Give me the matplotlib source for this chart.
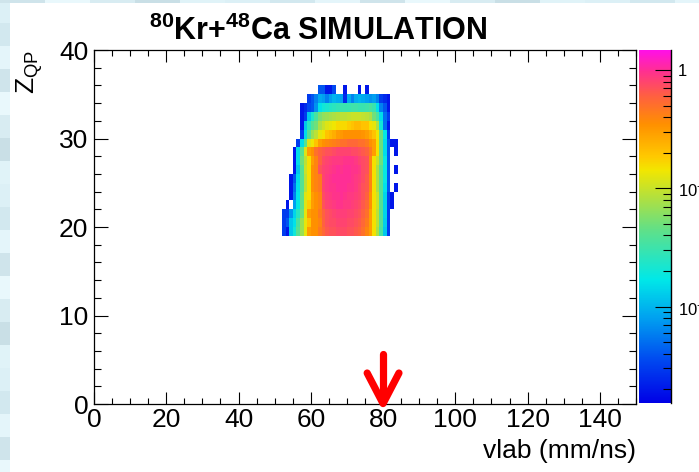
import numpy as np
import matplotlib
matplotlib.use("Agg")
import matplotlib.pyplot as plt
from matplotlib.colors import LinearSegmentedColormap, LogNorm
from matplotlib.patches import Rectangle
from matplotlib.ticker import MultipleLocator, FixedLocator, FixedFormatter

plt.rcParams["font.family"] = ["Liberation Sans", "DejaVu Sans"]
plt.rcParams["mathtext.fontset"] = "custom"
plt.rcParams["mathtext.rm"] = "Liberation Sans"
plt.rcParams["mathtext.bf"] = "Liberation Sans:bold"
plt.rcParams["mathtext.it"] = "Liberation Sans:italic"

# ---- histogram content: Z_QP (rows, 35 down to 19) vs vlab bins 52..83 ----
vlab_edges = np.arange(52, 85)      # 1 mm/ns bins
zqp_edges = np.arange(19, 37)       # unit charge bins
counts_top_down = [
    [0,0,0,0,0,0,0,0,0,0,.004,.004,.002,.002,.0035,0,0,.002,0,0,0,.002,0,.002,0,0,0,0,0,0,0,0],
    [0,0,0,0,0,0,0,.003,.004,.006,.009,.008,.006,.008,.01,.009,.008,.0025,.009,.006,.009,.01,.009,.008,.007,.008,.006,.003,.0025,.002,0,0],
    [0,0,0,0,0,.002,.0025,.0035,.004,.007,.016,.02,.022,.024,.026,.028,.03,.03,.03,.032,.032,.03,.03,.032,.035,.03,.016,.006,.004,.002,0,0],
    [0,0,0,0,0,.002,.003,.012,.022,.035,.055,.065,.07,.075,.08,.085,.09,.09,.095,.1,.1,.1,.095,.09,.08,.05,.035,.015,.005,.003,0,0],
    [0,0,0,0,0,.002,.012,.025,.04,.05,.08,.1,.12,.13,.14,.16,.16,.16,.18,.2,.22,.22,.2,.2,.15,.13,.08,.02,.005,.002,0,0],
    [0,0,0,0,0,.003,.015,.04,.07,.09,.13,.15,.2,.22,.25,.3,.32,.35,.35,.35,.35,.35,.33,.3,.25,.2,.14,.05,.018,.003,0,0],
    [0,0,0,0,.003,.015,.04,.12,.14,.2,.3,.35,.38,.4,.42,.45,.5,.5,.55,.55,.55,.5,.5,.45,.35,.3,.15,.05,.015,.004,.002,.002],
    [0,0,0,.002,.015,.04,.12,.3,.35,.5,.6,.65,.7,.7,.75,.8,.8,.8,.8,.75,.75,.7,.65,.6,.45,.3,.15,.05,.015,.004,0,.002],
    [0,0,0,.002,.015,.05,.09,.15,.3,.4,.6,.75,.8,.85,.9,.9,.9,.95,.95,.95,.9,.8,.75,.7,.4,.15,.1,.05,.018,.004,0,0],
    [0,0,0,.002,.012,.04,.1,.15,.35,.4,.7,.8,.85,.9,.95,1.0,.95,1.0,1.0,.95,.95,.9,.75,.7,.4,.15,.08,.04,.018,.004,0,.002],
    [0,0,.002,.004,.015,.04,.09,.15,.35,.4,.45,.8,.9,.95,1.0,1.0,1.0,1.0,1.0,.95,.9,.85,.75,.65,.4,.15,.08,.04,.018,.004,0,0],
    [0,0,.002,.005,.016,.04,.09,.15,.35,.4,.45,.8,.9,.95,.95,1.0,1.0,1.0,.95,.95,.9,.8,.7,.65,.4,.15,.08,.04,.016,.004,0,.002],
    [0,0,.002,.006,.017,.045,.12,.15,.3,.35,.4,.75,.85,.9,.95,.95,1.0,.95,.9,.9,.85,.8,.7,.6,.35,.15,.1,.04,.014,.003,.002,0],
    [0,.002,0,.008,.018,.045,.12,.18,.3,.35,.4,.7,.8,.85,.9,.95,.95,.9,.9,.85,.8,.75,.65,.55,.35,.15,.1,.04,.014,.003,.002,0],
    [.003,.003,.007,.014,.025,.05,.13,.3,.35,.35,.45,.6,.7,.75,.8,.85,.85,.85,.8,.8,.75,.7,.6,.5,.3,.15,.09,.04,.014,.003,0,0],
    [.003,.004,.012,.016,.035,.07,.13,.2,.35,.35,.4,.6,.7,.75,.75,.8,.8,.8,.75,.75,.7,.65,.55,.45,.3,.15,.09,.04,.013,.003,0,0],
    [.003,.002,.012,.02,.04,.07,.13,.3,.35,.35,.45,.55,.65,.7,.7,.75,.75,.75,.7,.7,.65,.6,.5,.4,.3,.15,.08,.035,.012,.003,0,0],
]
z_min, z_max = 1.53e-3, 1.48
beam_velocity = 80                  # marked with the red arrow

x_ticks = [0, 20, 40, 60, 80, 100, 120, 140]
y_ticks = [0, 10, 20, 30, 40]
z_ticks = [1.0, 0.1, 0.01]
z_tick_labels = ["1", r"$10^{-1}$", r"$10^{-2}$"]

# palette: blue -> cyan -> green -> yellow -> orange -> pink -> magenta
pal_stops = [0.0, 0.12, 0.24, 0.35, 0.49, 0.58, 0.66, 0.70, 0.79, 0.87, 0.94, 1.0]
pal_colors = ["#0000e6", "#0048f0", "#00a0f0", "#00e8e8", "#60e088", "#b0e040",
              "#f2e600", "#ffc800", "#ff9000", "#ff6040", "#ff3090", "#ff10e8"]
cmap = LinearSegmentedColormap.from_list("qp", list(zip(pal_stops, pal_colors)), N=512)

# slide backdrop stripes
stripe_colors = ["#dcf0f6", "#d2e8ef", "#e4f5fa", "#cfe4eb", "#e9f8fc",
                 "#d8ecf2", "#c9dfe6", "#e0f3f8"]

W, H = 699, 472
fig = plt.figure(figsize=(W / 100, H / 100), dpi=100)
fig.patch.set_facecolor("white")

bg = fig.add_axes([0, 0, 1, 1], zorder=-10)
bg.set_xlim(0, W)
bg.set_ylim(H, 0)
bg.axis("off")
band = 23
for i, y0 in enumerate(range(0, H, band)):
    bg.add_patch(Rectangle((0, y0), 10, band, color=stripe_colors[i % len(stripe_colors)], lw=0))
for i, x0 in enumerate(range(0, W, 45)):
    bg.add_patch(Rectangle((x0, 0), 45, 3, color=stripe_colors[(i + 3) % len(stripe_colors)], lw=0))

ax = fig.add_axes([94 / W, 1 - 404 / H, (636 - 94) / W, (404 - 50) / H])
cax = fig.add_axes([639 / W, 1 - 403 / H, 32 / W, 353 / H])

grid = np.array(counts_top_down[::-1], dtype=float)
grid = np.ma.masked_less_equal(grid, 0)
norm = LogNorm(vmin=z_min, vmax=z_max)
mesh = ax.pcolormesh(vlab_edges, zqp_edges, grid, cmap=cmap, norm=norm,
                     shading="flat", edgecolors="none", antialiased=False)

ax.set_xlim(0, 150)
ax.set_ylim(0, 40)
ax.xaxis.set_major_locator(FixedLocator(x_ticks))
ax.xaxis.set_minor_locator(MultipleLocator(5))
ax.yaxis.set_major_locator(FixedLocator(y_ticks))
ax.yaxis.set_minor_locator(MultipleLocator(2))
ax.tick_params(which="both", direction="in", top=True, right=True, width=0.8,
               labelsize=19, colors="black")
ax.tick_params(axis="x", which="major", length=8.6, pad=3)
ax.tick_params(axis="x", which="minor", length=4.3)
ax.tick_params(axis="y", which="major", length=10, pad=4)
ax.tick_params(axis="y", which="minor", length=5)
for s in ax.spines.values():
    s.set_linewidth(0.9)

# beam velocity arrow
ax.plot([beam_velocity, beam_velocity], [5.6, 0.3], color="red", lw=5.2,
        solid_capstyle="round", clip_on=False, zorder=5)
ax.plot([beam_velocity - 4.4, beam_velocity, beam_velocity + 4.4], [3.5, 0.05, 3.5],
        color="red", lw=5.2, solid_capstyle="round", solid_joinstyle="round",
        clip_on=False, zorder=5)

cb = fig.colorbar(mesh, cax=cax)
cb.outline.set_visible(False)
cax.yaxis.set_ticks_position("right")
cax.yaxis.set_major_locator(FixedLocator(z_ticks))
cax.yaxis.set_major_formatter(FixedFormatter(z_tick_labels))
minor = [m * d for d in (1e-3, 1e-2, 1e-1) for m in range(2, 10)]
minor = [v for v in minor if z_min <= v <= z_max]
cax.yaxis.set_minor_locator(FixedLocator(minor))
cax.yaxis.set_minor_formatter(FixedFormatter([""] * len(minor)))
cax.tick_params(which="both", direction="in", width=0.8, labelsize=12, pad=5)
cax.tick_params(which="major", length=11.5)
cax.tick_params(which="minor", length=5.8)
cax.plot([1, 1], [0, 1], transform=cax.transAxes, color="black", lw=1, clip_on=False)

fig.text(0.455, 1 - 40 / H, r"$^{\mathbf{80}}$Kr+$^{\mathbf{48}}$Ca SIMULATION",
         ha="center", va="baseline", fontsize=22, fontweight="bold")
fig.text(30 / W, 1 - 50 / H, r"Z$_{\mathrm{QP}}$", rotation=90, ha="center", va="top",
         fontsize=19)
fig.text(636 / W, 1 - 458 / H, "vlab (mm/ns)", ha="right", va="baseline", fontsize=19)

fig.savefig("out.png", dpi=100)
